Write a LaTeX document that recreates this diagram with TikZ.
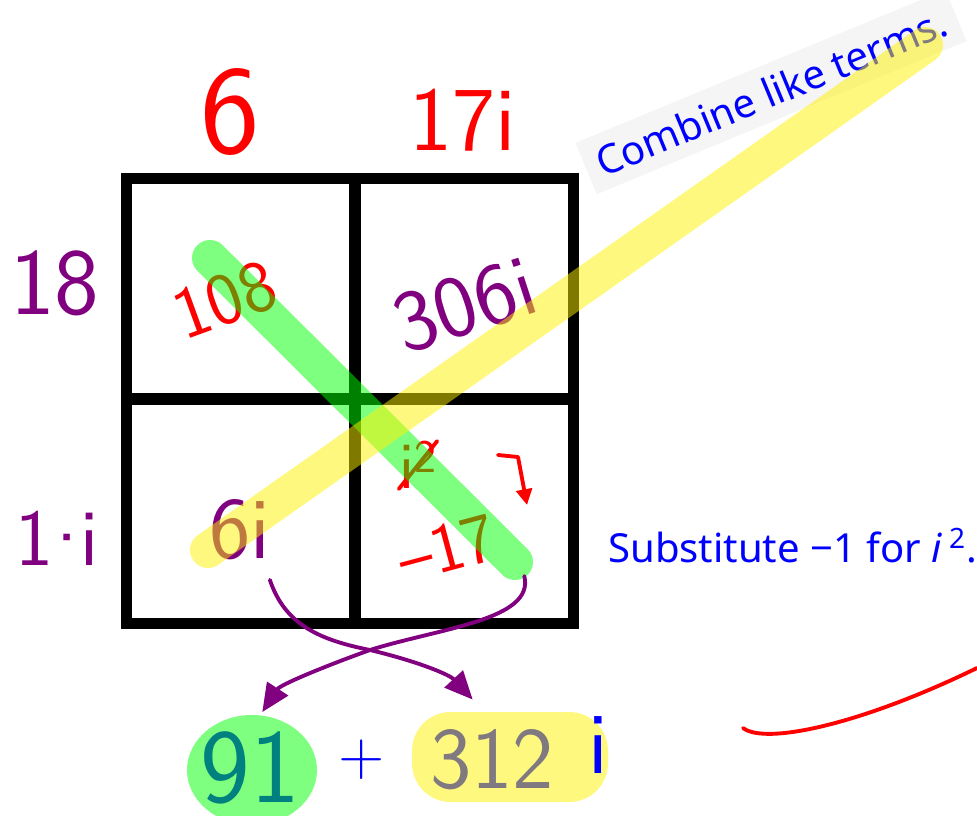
\documentclass[tikz,border=0pt]{standalone}
\usepackage{fontspec}
\newfontfamily\labelfont{Noto Sans}
\usetikzlibrary{arrows.meta}
\definecolor{lila}{HTML}{800080}

\begin{document}
\begin{tikzpicture}[x=0.02cm, y=-0.02cm,
        hand/.style={inner sep=0pt, font=\sffamily\fontsize{#1}{#1}\selectfont},
        leuchtstift/.style={line width=20.5pt, line cap=round, opacity=0.5},
        tinte/.style={line width=2.2pt, line cap=round, line join=round},
        hinweis/.style={font=\labelfont\fontsize{22.8pt}{22.8pt}\selectfont, text=blue}]
        \useasboundingbox (0,0) rectangle (977,815);

        % Raster
        \draw[line width=6.8pt] (126.5,178.5) rectangle (573.5,623.5);
        \draw[line width=6.8pt] (355,178.5) -- (355,623.5);
        \draw[line width=6.8pt] (126.5,399) -- (573.5,399);

        % Faktoren
        \node[hand=72pt, red] (sechs) at (230,112) {6};
        \node[hand=52pt, red] (siebzehni) at (463,120) {17i};
        \node[hand=54pt, lila] (achtzehn) at (55,283) {18};
        \node[hand=46pt, lila] (einsi) at (57,538) {1\kern-0.2em·\kern-0.2em i};

        % Produkte
        \node[hand=42pt, red, rotate=20] (hundertacht) at (225,300) {108};
        \node[hand=50pt, lila, rotate=18] (dreinullsechsi) at (465,305) {306i};
        \node[hand=50pt, lila] (sechsi) at (240,530) {6i};
        \node[hand=38pt, red] (iquadrat) at (418,465) {i\textsuperscript{2}};
        \draw[tinte, red] (iquadrat.south west) -- (iquadrat.north east);
        \node[hand=40pt, red, rotate=15] (minussiebzehn) at (447,548) {–17};
        \coordinate (haken) at (498,455);
        \draw[tinte, red, -{Triangle[length=9pt, width=9pt]}] (haken) -- (518,457) -- (527,505);

        % Hinweise
        \node[hinweis, fill=black!4, inner sep=7pt, rotate=22.5] (zusammenfassen) at (771,92) {Combine like terms.};
        \node[hinweis, anchor=base west, inner sep=0pt] (ersetzen) at (608,562) {Substitute −1 for \textit{i}\,\textsuperscript{2}.};

        % Markierungen
        \draw[leuchtstift, green] (210,258) -- (515,562);
        \draw[leuchtstift, yellow] (208,550) -- (925,45);

        % Ergebnis
        \node[hand=60pt, blue] (einundneunzig) at (250,768) {91};
        \node[hand=36pt, blue] (plus) at (362,760) {+};
        \node[hand=50pt, blue] (dreizwoelf) at (492,760) {312};
        \fill[green, opacity=0.5] (252,770) ellipse (65 and 55);
        \fill[yellow, opacity=0.5, rounded corners=22pt] (412,712) rectangle (608,802);
        \node[hand=50pt, blue] (iergebnis) at (598,745) {i};

        % Pfeile
        \draw[tinte, lila, -{Triangle[length=16pt, width=14pt]}] ([xshift=17pt, yshift=-11pt]sechsi.south)
            .. controls (285,625) and (320,640) .. (370,650)
            .. controls (420,662) and (450,675) .. ([xshift=-11pt, yshift=17pt]dreizwoelf.north);
        \draw[tinte, lila, -{Triangle[length=16pt, width=14pt]}] ([xshift=13pt, yshift=-10pt]minussiebzehn.south east)
            .. controls (535,620) and (440,628) .. (370,650)
            .. controls (320,668) and (280,685) .. ([xshift=7pt, yshift=11pt]einundneunzig.north);

        % Strich
        \draw[tinte, red] (743,728) .. controls (765,745) and (860,725) .. (977,668);
    \end{tikzpicture}
\end{document}
